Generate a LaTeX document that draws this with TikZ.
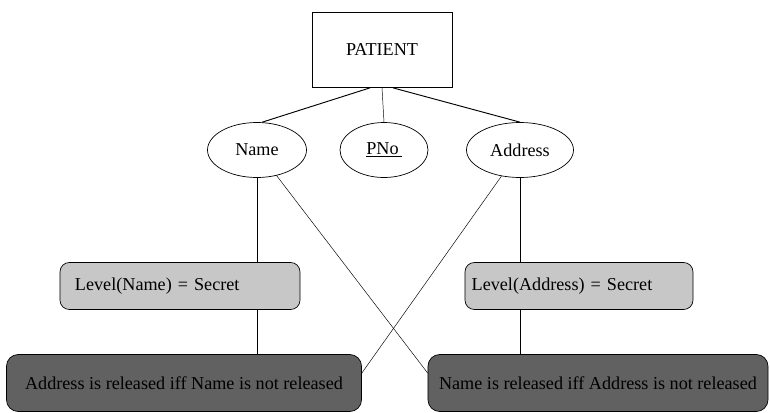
\documentclass[tikz,border=0pt]{standalone}
\usepackage{fontspec}
\setmainfont{Liberation Serif}
\usepackage{tikz}
\usetikzlibrary{positioning}
\usetikzlibrary{shapes.geometric}

\begin{document}
\begin{tikzpicture}[x=0.03cm,y=-0.03cm,font=\fontsize{15.5}{18}\selectfont]
	\useasboundingbox (0,0) rectangle (770,413);
	%% entity
	\node[draw,semithick,minimum width=4.2cm,minimum height=2.25cm,anchor=center] (pat) at (382,50) {PATIENT};
	%% attributes
	\node[draw,semithick,shape=ellipse,inner sep=0pt,minimum width=2.97cm,minimum height=1.65cm,anchor=center] (name) at (257,150) {Name};
	\node[draw,semithick,shape=ellipse,inner sep=0pt,minimum width=2.64cm,minimum height=1.65cm,anchor=center] (pno) at (384,150) {\underline{PNo\,}};
	\node[draw,semithick,shape=ellipse,inner sep=0pt,minimum width=3.21cm,minimum height=1.65cm,anchor=center] (addr) at (520,150) {Address};
	%% security levels
	\node[draw,semithick,fill=black!22,rounded corners=8pt,inner xsep=.45cm,text width=6.3cm,align=left,minimum height=1.41cm,anchor=center] (lvn) at (180,286) {Level(Name) = Secret};
	\node[draw,semithick,fill=black!22,rounded corners=8pt,inner xsep=.2cm,text width=6.44cm,align=left,minimum height=1.41cm,anchor=center] (lva) at (579,286) {Level(Address) = Secret};
	%% release constraints
	\node[draw,semithick,fill=black!62,rounded corners=10pt,minimum width=10.65cm,minimum height=1.71cm,anchor=center] (reln) at (184,383) {Address is released iff Name is not released};
	\node[draw,semithick,fill=black!62,rounded corners=10pt,minimum width=10.2cm,minimum height=1.71cm,anchor=center] (rela) at (598,383) {Name is released iff Address is not released};
	% 连线
	\draw[thick] ([xshift=-.36cm]pat.south) -- (name.80);
	\draw (pat.south) -- (pno.north);
	\draw[thick] ([xshift=.33cm]pat.south) -- (addr.north);
	\draw (name.south) -- (name.south |- lvn.north);
	\draw (lvn.south -| name) -- (reln.north -| name);
	\draw (addr.south) -- (addr.south |- lva.north);
	\draw (lva.south -| addr) -- (rela.north -| addr);
	\draw (name) -- ([yshift=.3cm]rela.west);
	\draw (addr) -- ([yshift=.3cm]reln.east);
\end{tikzpicture}
\end{document}
